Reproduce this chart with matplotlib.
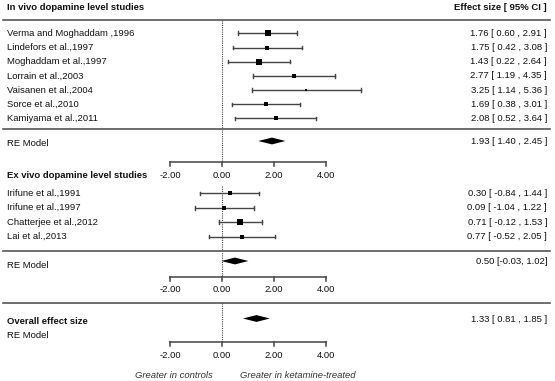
import matplotlib
matplotlib.use("Agg")
import matplotlib.pyplot as plt
from matplotlib.patches import Polygon

plt.rcParams['font.family'] = ['Liberation Sans', 'DejaVu Sans']

# ---- data ----
invivo_names = ["Verma and Moghaddam ,1996", "Lindefors et al.,1997", "Moghaddam et al.,1997",
                "Lorrain et al.,2003", "Vaisanen et al.,2004", "Sorce et al.,2010",
                "Kamiyama et al.,2011"]
invivo_est = [1.76, 1.75, 1.43, 2.77, 3.25, 1.69, 2.08]
invivo_lo = [0.60, 0.42, 0.22, 1.19, 1.14, 0.38, 0.52]
invivo_hi = [2.91, 3.08, 2.64, 4.35, 5.36, 3.01, 3.64]
invivo_w = [18, 13, 18, 9, 4.4, 13, 9]
invivo_re = (1.93, 1.40, 2.45)

exvivo_names = ["Irifune et al.,1991", "Irifune et al.,1997", "Chatterjee et al.,2012", "Lai et al.,2013"]
exvivo_est = [0.30, 0.09, 0.71, 0.77]
exvivo_lo = [-0.84, -1.04, -0.12, -0.52]
exvivo_hi = [1.44, 1.22, 1.53, 2.05]
exvivo_w = [15, 15, 30, 15]
exvivo_re = (0.50, -0.03, 1.02)

overall_re = (1.33, 0.81, 1.85)

ticks = [-2, 0, 2, 4]

# ---- layout (pixel rows, 555x381 canvas) ----
W, H = 555, 381
X0 = 222.0     # pixel column of effect size 0
SCALE = 25.9   # pixels per unit

def px(p):
    return (p - X0) / SCALE

fig = plt.figure(figsize=(5.55, 3.81), dpi=100)
ax = fig.add_axes([0, 0, 1, 1])
ax.set_xlim(px(0), px(W))
ax.set_ylim(H, 0)
ax.axis('off')

FS = 6.8
TXT = '#111111'
LINE = '#444444'
LEFT = px(7)
RIGHT = px(547)

def hline(y):
    ax.plot([px(3), px(550)], [y, y], color='#555555', lw=1.2)

def study_rows(names, est, lo, hi, w, y0, step):
    for i, (n, e, l, h, wt) in enumerate(zip(names, est, lo, hi, w)):
        y = y0 + i * step
        ax.text(LEFT, y, n, fontsize=FS, color=TXT, va='center', ha='left')
        ax.plot([l, h], [y, y], color=LINE, lw=1.0)
        ax.plot([l, l], [y - 1.8, y + 1.8], color=LINE, lw=1.0)
        ax.plot([h, h], [y - 1.8, y + 1.8], color=LINE, lw=1.0)
        ax.plot(e, y, marker='s', color='black', ms=1.2 * wt ** 0.5 * 0.72, mew=0)
        ax.text(RIGHT, y, f"{e:.2f} [ {l:.2f} , {h:.2f} ]", fontsize=FS, color=TXT,
                va='center', ha='right')

def diamond(est, lo, hi, y, half=3.4):
    ax.add_patch(Polygon([(lo, y), (est, y - half), (hi, y), (est, y + half)],
                         closed=True, color='black', lw=0))

def scale_axis(y, label_y):
    ax.plot([ticks[0], ticks[-1]], [y, y], color=LINE, lw=1.1)
    for t in ticks:
        ax.plot([t, t], [y, y + 4], color=LINE, lw=1.1)
        ax.text(t, label_y, f"{t:.2f}", fontsize=FS, color=TXT, ha='center', va='center')

def zero_line(y1, y2):
    ax.plot([0, 0], [y1, y2], color=LINE, lw=0.8, ls=(0, (1, 1)))

# header
ax.text(LEFT, 7, "In vivo dopamine level studies", fontsize=FS, fontweight='bold',
        color=TXT, va='center')
ax.text(RIGHT, 7, "Effect size [ 95% CI ]", fontsize=FS, fontweight='bold',
        color=TXT, va='center', ha='right')
hline(20)

# in vivo block
zero_line(20, 162)
study_rows(invivo_names, invivo_est, invivo_lo, invivo_hi, invivo_w, 33.3, 14.2)
hline(129)
ax.text(LEFT, 144, "RE Model", fontsize=FS, color=TXT, va='center')
diamond(*invivo_re, 141)
ax.text(RIGHT, 141, "{:.2f} [ {:.2f} , {:.2f} ]".format(*invivo_re), fontsize=FS,
        color=TXT, va='center', ha='right')
scale_axis(162, 175)

# ex vivo block
ax.text(LEFT, 175, "Ex vivo dopamine level studies", fontsize=FS, fontweight='bold',
        color=TXT, va='center')
zero_line(186, 277)
study_rows(exvivo_names, exvivo_est, exvivo_lo, exvivo_hi, exvivo_w, 193.3, 14.45)
hline(251)
ax.text(LEFT, 265, "RE Model", fontsize=FS, color=TXT, va='center')
diamond(*exvivo_re, 261)
ax.text(RIGHT, 261, "{:.2f} [{:.2f}, {:.2f}]".format(*exvivo_re), fontsize=FS,
        color=TXT, va='center', ha='right')
scale_axis(277, 290)

# overall
hline(303)
zero_line(303, 342)
ax.text(LEFT, 321, "Overall effect size", fontsize=FS, fontweight='bold',
        color=TXT, va='center')
ax.text(LEFT, 335, "RE Model", fontsize=FS, color=TXT, va='center')
diamond(*overall_re, 318.5)
ax.text(RIGHT, 320, "{:.2f} [ {:.2f} , {:.2f} ]".format(*overall_re), fontsize=FS,
        color=TXT, va='center', ha='right')
scale_axis(342, 355)

ax.text(px(213), 376, "Greater in controls", fontsize=FS, style='italic',
        color='#333333', va='center', ha='right')
ax.text(px(240), 376, "Greater in ketamine-treated", fontsize=FS, style='italic',
        color='#333333', va='center', ha='left')

fig.savefig("out.png", dpi=100, facecolor='white')
